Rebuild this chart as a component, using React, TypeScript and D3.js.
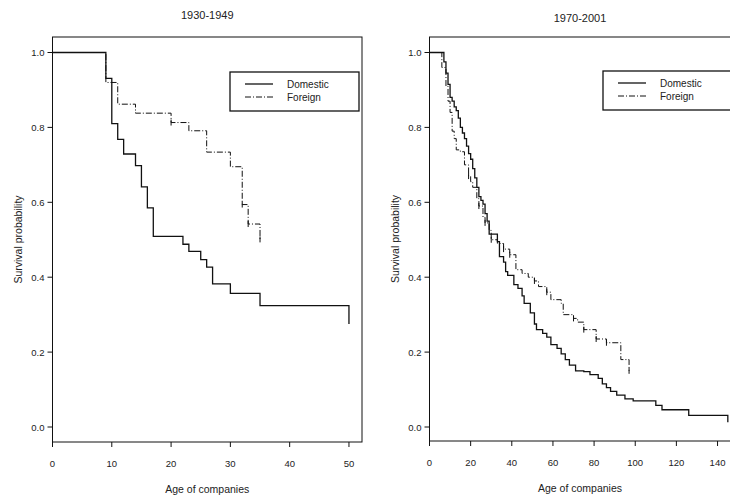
import React from "react";
import * as d3 from "d3";

const leftDomX = [0, 9, 10, 11, 12, 14, 15, 16, 17, 22, 23, 25, 26, 27, 30, 35, 50];
const leftDomY = [1, 0.931, 0.81, 0.768, 0.729, 0.698, 0.641, 0.585, 0.509, 0.488, 0.469, 0.447, 0.427, 0.382, 0.357, 0.324, 0.275];
const leftForX = [0, 9, 11, 14, 20, 23, 26, 30, 32, 33, 35];
const leftForY = [1, 0.92, 0.862, 0.838, 0.813, 0.791, 0.734, 0.695, 0.594, 0.542, 0.501];
const leftForCens = [20, 32, 33, 35];

const rightDomX = [0, 7, 8, 9, 10, 11, 12, 13, 14, 15, 16, 17, 18, 19, 20, 21, 22, 23, 24, 25, 26, 27, 28, 29, 31, 33, 34, 36, 37, 38, 41, 43, 45, 46, 49, 51, 52, 55, 57, 59, 62, 64, 66, 68, 71, 75, 78, 82, 84, 86, 88, 91, 95, 99, 110, 113, 126, 145];
const rightDomY = [1, 0.975, 0.945, 0.915, 0.88, 0.87, 0.855, 0.845, 0.825, 0.8, 0.785, 0.77, 0.75, 0.73, 0.715, 0.69, 0.665, 0.64, 0.615, 0.605, 0.595, 0.57, 0.55, 0.515, 0.515, 0.495, 0.455, 0.44, 0.415, 0.405, 0.38, 0.37, 0.35, 0.33, 0.305, 0.275, 0.26, 0.25, 0.24, 0.22, 0.21, 0.195, 0.18, 0.165, 0.15, 0.148, 0.14, 0.13, 0.115, 0.105, 0.095, 0.085, 0.075, 0.07, 0.058, 0.046, 0.031, 0.013];
const rightForX = [0, 6, 8, 9, 10, 11, 12, 13, 15, 17, 19, 20, 21, 23, 24, 26, 27, 29, 30, 33, 36, 39, 42, 45, 48, 51, 53, 57, 59, 64, 65, 70, 72, 75, 81, 86, 93, 97];
const rightForY = [1, 0.96, 0.91, 0.87, 0.84, 0.79, 0.77, 0.74, 0.735, 0.7, 0.67, 0.655, 0.64, 0.61, 0.59, 0.56, 0.545, 0.525, 0.5, 0.49, 0.475, 0.46, 0.42, 0.41, 0.4, 0.39, 0.375, 0.36, 0.34, 0.33, 0.3, 0.29, 0.28, 0.26, 0.235, 0.225, 0.18, 0.15];
const rightForCens = [19, 24, 27, 30, 36, 39, 51, 57, 70, 75, 81, 86, 97];

const yTicks = [0, 0.2, 0.4, 0.6, 0.8, 1.0];
const leftXTicks = [0, 10, 20, 30, 40, 50];
const rightXTicks = [0, 20, 40, 60, 80, 100, 120, 140];
const legendLabels = ["Domestic", "Foreign"];

const FONT = "Liberation Sans, Arial, sans-serif";

type PanelProps = {
  x0: number; x1: number; top: number; bottom: number; xmax: number;
  xticks: number[]; title: string; titleY: number;
  dom: [number[], number[]]; fr: [number[], number[]]; cens: number[];
  legend: [number, number, number, number];
};

function stepPath(xs: number[], ys: number[], sx: any, sy: any, endDrop: boolean) {
  const pts: [number, number][] = xs.map((x, i) => [x, ys[i]]);
  const line = d3.line<[number, number]>().x(d => sx(d[0])).y(d => sy(d[1])).curve(d3.curveStepAfter);
  return line(pts) || "";
}

function Panel(p: PanelProps) {
  const sx = d3.scaleLinear().domain([0, p.xmax]).range([p.x0, p.x1]);
  const sy = d3.scaleLinear().domain([0, 1]).range([427, 52.5]);
  const [lx, ly, lw, lh] = p.legend;
  const cx = (p.x0 + p.x1) / 2;
  const interp = (v: number) => {
    const xs = p.fr[0]; let i = 0;
    while (i + 1 < xs.length && xs[i + 1] <= v) i++;
    return p.fr[1][i];
  };
  return (
    <g fontFamily={FONT} fill="#222">
      <text x={cx} y={p.titleY} fontSize={11} textAnchor="middle">{p.title}</text>
      <rect x={p.x0} y={p.top} width={p.x1 - p.x0} height={p.bottom - p.top} fill="none" stroke="#111" strokeWidth={1} />
      {yTicks.map(t => (
        <g key={t}>
          <line x1={p.x0 - 5} x2={p.x0} y1={sy(t)} y2={sy(t)} stroke="#111" />
          <text x={p.x0 - 8} y={sy(t) + 3.5} fontSize={9.5} textAnchor="end">{t.toFixed(1)}</text>
        </g>
      ))}
      {p.xticks.map(t => (
        <g key={t}>
          <line x1={sx(t)} x2={sx(t)} y1={p.bottom} y2={p.bottom + 5} stroke="#111" />
          <text x={sx(t)} y={p.bottom + 25} fontSize={9.5} textAnchor="middle">{t}</text>
        </g>
      ))}
      <text x={cx} y={p.bottom + 51} fontSize={10.5} textAnchor="middle">Age of companies</text>
      <text transform={`translate(${p.x0 - 31},${(p.top + p.bottom) / 2}) rotate(-90)`} fontSize={10.5} textAnchor="middle">Survival probability</text>
      <path d={stepPath(p.dom[0], p.dom[1], sx, sy, true)} fill="none" stroke="#111" strokeWidth={1.3} />
      <path d={stepPath(p.fr[0], p.fr[1], sx, sy, true)} fill="none" stroke="#111" strokeWidth={1} strokeDasharray="6,2,1,2" />
      {p.cens.map(c => (
        <line key={c} x1={sx(c)} x2={sx(c)} y1={sy(interp(c)) - 3} y2={sy(interp(c)) + 3} stroke="#111" />
      ))}
      <rect x={lx} y={ly} width={lw} height={lh} fill="white" stroke="#111" strokeWidth={1.3} />
      <line x1={lx + 15} x2={lx + 43} y1={ly + 12} y2={ly + 12} stroke="#111" strokeWidth={1.3} />
      <line x1={lx + 15} x2={lx + 43} y1={ly + 25} y2={ly + 25} stroke="#111" strokeDasharray="6,2,1,2" />
      <text x={lx + 57} y={ly + 15.5} fontSize={10}>{legendLabels[0]}</text>
      <text x={lx + 57} y={ly + 28.5} fontSize={10}>{legendLabels[1]}</text>
    </g>
  );
}

export default function App() {
  return (
    <svg width={730} height={498} style={{ position: "absolute", left: 0, top: 0, background: "white" }}>
      <Panel x0={52.5} x1={362} top={37} bottom={442} xmax={52.2} xticks={leftXTicks} title="1930-1949" titleY={19}
        dom={[leftDomX, leftDomY]} fr={[leftForX, leftForY]} cens={leftForCens} legend={[230, 72, 129, 39]} />
      <Panel x0={429.5} x1={730.5} top={37} bottom={441} xmax={146.3} xticks={rightXTicks} title="1970-2001" titleY={22}
        dom={[rightDomX, rightDomY]} fr={[rightForX, rightForY]} cens={rightForCens} legend={[603, 71, 130, 39]} />
    </svg>
  );
}
